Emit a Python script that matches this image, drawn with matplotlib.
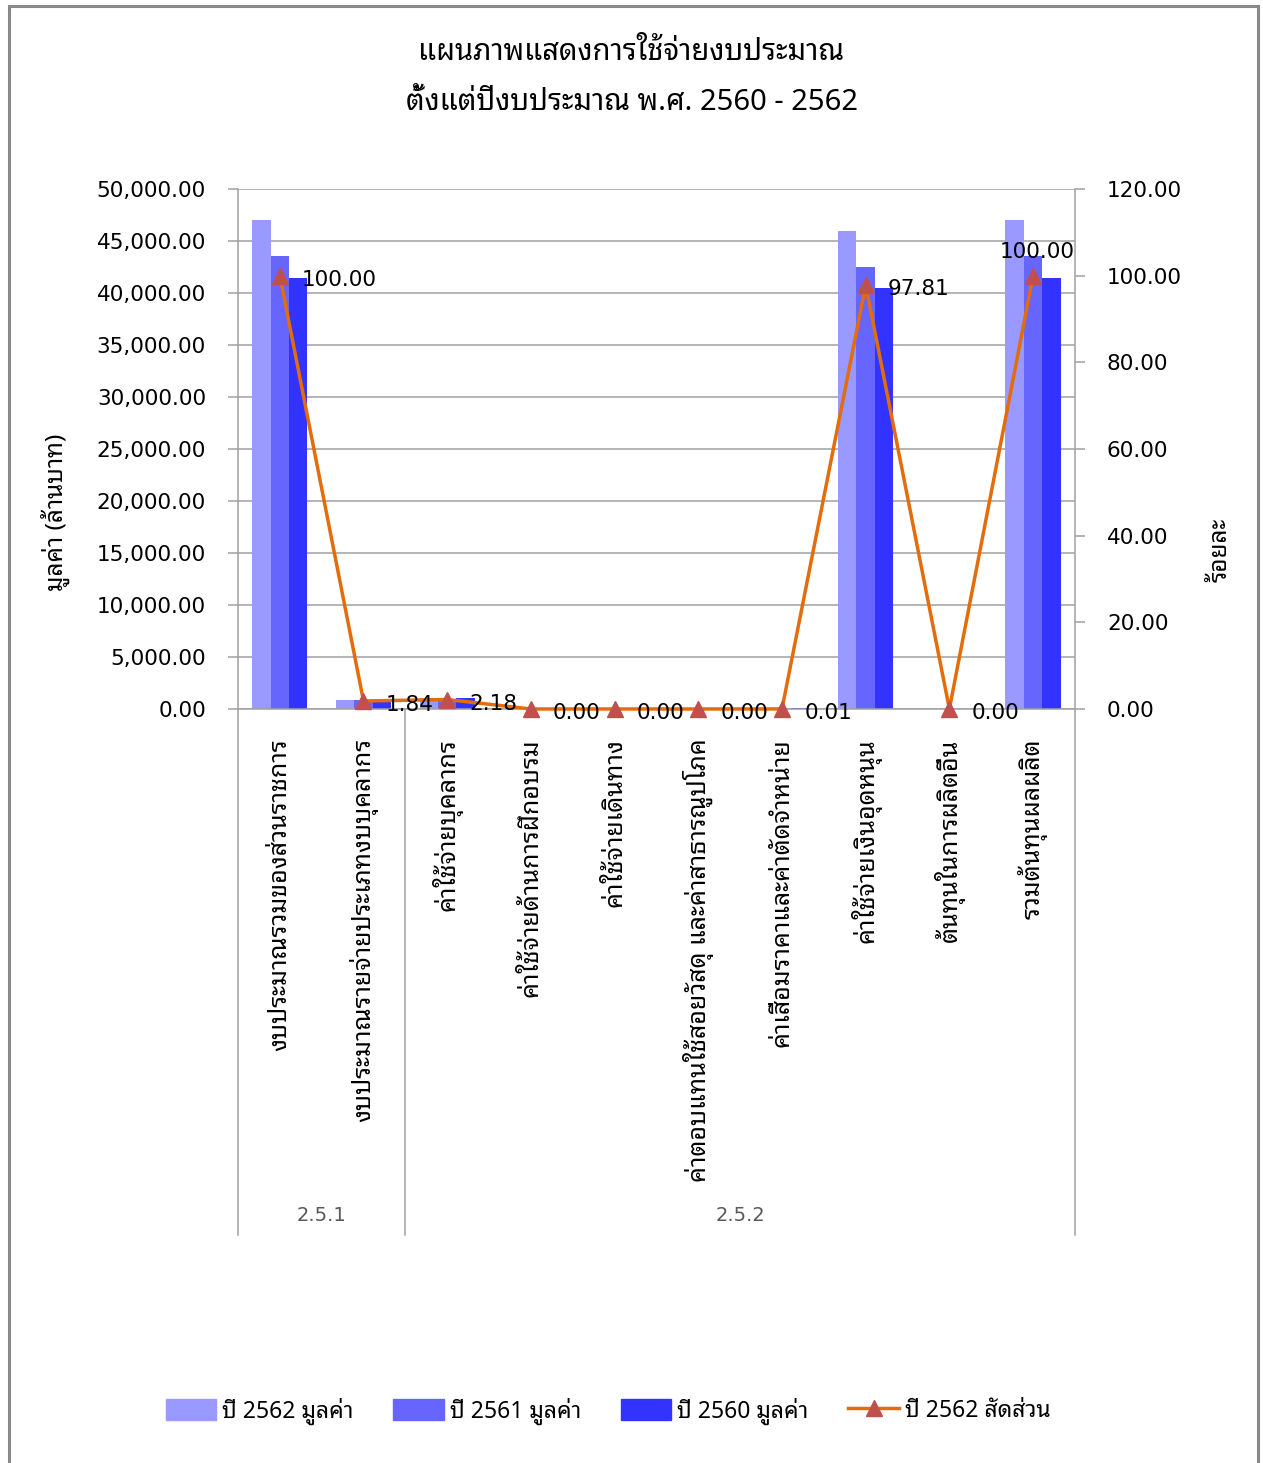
import matplotlib
matplotlib.use("Agg")
import matplotlib.pyplot as plt
from matplotlib import font_manager
from matplotlib.lines import Line2D
from matplotlib.patches import Patch, Rectangle
import numpy as np

# pick an installed Thai face; numbers stay in DejaVu Sans
installed = {f.name for f in font_manager.fontManager.ttflist}
thai_font = next((n for n in ["Noto Sans Thai Looped", "Sarabun", "IBM Plex Sans Thai Looped",
                              "Noto Sans Thai", "Anuphan"] if n in installed), "DejaVu Sans")
plt.rcParams["font.family"] = ["DejaVu Sans", thai_font]
THAI = [thai_font, "DejaVu Sans"]

# data
categories = [
    "งบประมาณรวมของส่วนราชการ",
    "งบประมาณรายจ่ายประเภทงบบุคลากร",
    "ค่าใช้จ่ายบุคลากร",
    "ค่าใช้จ่ายด้านการฝึกอบรม",
    "ค่าใช้จ่ายเดินทาง",
    "ค่าตอบแทนใช้สอยวัสดุ และค่าสาธารณูปโภค",
    "ค่าเสื่อมราคาและค่าตัดจำหน่าย",
    "ค่าใช้จ่ายเงินอุดหนุน",
    "ต้นทุนในการผลิตอื่น",
    "รวมต้นทุนผลผลิต",
]
groups = ["2.5.1", "2.5.2"]
group_sizes = [2, 8]
value_2562 = [47000, 865, 1025, 0, 0, 0, 0, 46000, 0, 47000]
value_2561 = [43570, 840, 990, 0, 0, 0, 0, 42520, 0, 43570]
value_2560 = [41430, 850, 1010, 0, 0, 0, 100, 40470, 0, 41430]
share_2562 = [100.00, 1.84, 2.18, 0.00, 0.00, 0.00, 0.01, 97.81, 0.00, 100.00]

series_names = ["ปี 2562 มูลค่า", "ปี 2561 มูลค่า", "ปี 2560 มูลค่า", "ปี 2562 สัดส่วน"]
bar_colors = ["#9999FF", "#6666FF", "#3333FF"]
line_color = "#E46C0A"
marker_color = "#C0504D"
grey = "#A0A0A0"

fig = plt.figure(figsize=(12.63, 14.63), dpi=100)
ax = fig.add_axes([0.1884, 0.5154, 0.6627, 0.3554])

x = np.arange(len(categories))
w = 0.22
for k, (vals, col) in enumerate(zip([value_2562, value_2561, value_2560], bar_colors)):
    ax.bar(x + (k - 1) * w, vals, width=w, color=col, zorder=2)

ax.set_xlim(-0.5, len(categories) - 0.5)
ax.set_ylim(0, 50000)
ax.set_yticks(np.arange(0, 50001, 5000))
ax.yaxis.set_major_formatter(matplotlib.ticker.FuncFormatter(lambda v, p: f"{v:,.2f}"))
ax.grid(axis="y", color=grey, lw=1.1, zorder=0)
ax.tick_params(axis="y", length=7, width=1.1, color=grey, pad=16, labelsize=15.5)
ax.set_xticks(x)
ax.set_xticklabels(categories, rotation=90, ha="center", va="top", fontsize=18, family=THAI)
ax.tick_params(axis="x", length=0, pad=21)
for s in ["top", "right"]:
    ax.spines[s].set_visible(False)
for s in ["left", "bottom"]:
    ax.spines[s].set_color(grey)
    ax.spines[s].set_linewidth(1.1)
ax.set_ylabel("มูลค่า (ล้านบาท)", fontsize=17.5, family=THAI, ha="center", va="center")
ax.yaxis.set_label_coords(-0.2186, 0.379)

# percentage line on the right axis
ax2 = ax.twinx()
ax2.plot(x, share_2562, color=line_color, lw=2.5, marker="^", ms=11,
         mfc=marker_color, mec=marker_color, zorder=3, clip_on=False)
ax2.set_ylim(0, 120)
ax2.set_yticks(np.arange(0, 121, 20))
ax2.yaxis.set_major_formatter(matplotlib.ticker.FormatStrFormatter("%.2f"))
ax2.tick_params(axis="y", length=7, width=1.1, color=grey, pad=16, labelsize=15.5)
for s in ["top", "left", "bottom"]:
    ax2.spines[s].set_visible(False)
ax2.spines["right"].set_color(grey)
ax2.spines["right"].set_linewidth(1.1)
ax2.set_ylabel("ร้อยละ", rotation=90, fontsize=17.5, family=THAI, ha="center", va="center")
ax2.yaxis.set_label_coords(1.1744, 0.306)

for i, v in enumerate(share_2562):
    if i == len(share_2562) - 1:
        ax2.annotate(f"{v:.2f}", (x[i], v), xytext=(3, 17), textcoords="offset points",
                     ha="center", va="center", fontsize=15.5, zorder=4)
    else:
        ax2.annotate(f"{v:.2f}", (x[i], v), xytext=(16, -3), textcoords="offset points",
                     ha="left", va="center", fontsize=15.5, zorder=4)

# two-level category axis
tr = ax.get_xaxis_transform()
edges = np.concatenate([[0], np.cumsum(group_sizes)]) - 0.5
for e in edges:
    ax.plot([e, e], [0, -1.0115], transform=tr, color=grey, lw=1.1, clip_on=False)
for g, lo, hi in zip(groups, edges[:-1], edges[1:]):
    ax.text((lo + hi) / 2, -0.975, g, transform=tr, ha="center", va="center",
            fontsize=14, color="#595959")

# titles
fig.text(0.5, 1 - 52 / 1463, "แผนภาพแสดงการใช้จ่ายงบประมาณ", ha="center", va="center",
         fontsize=21, family=THAI)
fig.text(0.5, 1 - 102 / 1463, "ตั้งแต่ปีงบประมาณ พ.ศ. 2560 - 2562", ha="center", va="center",
         fontsize=21, family=THAI)

handles = [Patch(color=c) for c in bar_colors]
handles.append(Line2D([], [], color=line_color, lw=2.5, marker="^", ms=11,
                      mfc=marker_color, mec=marker_color))
fig.legend(handles, series_names, loc="center", bbox_to_anchor=(608 / 1263, 1 - 1411 / 1463),
           ncol=4, frameon=False, handlelength=2.2, handleheight=1.0, handletextpad=0.25,
           columnspacing=1.75, prop={"family": THAI, "size": 16.5})

fig.add_artist(Rectangle((9 / 1263, -0.01), 1249 / 1263, 1 - 6 / 1463 + 0.01,
                         transform=fig.transFigure, fill=False, edgecolor="#898989", lw=2.2))

fig.savefig("out.png", dpi=100)
